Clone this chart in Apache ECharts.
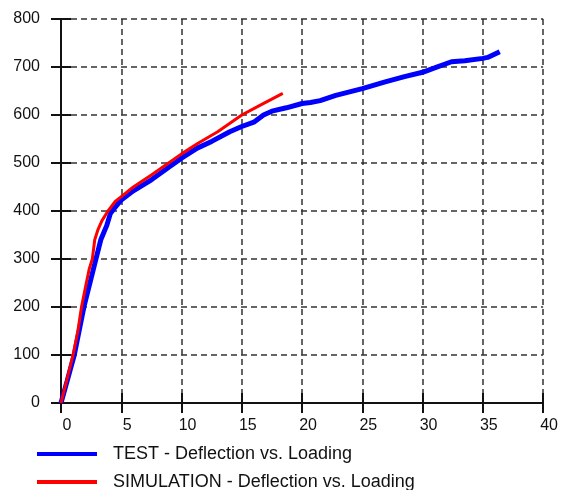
<!DOCTYPE html>
<html>
<head>
<meta charset="utf-8">
<script src="https://cdn.jsdelivr.net/npm/echarts@6/dist/echarts.min.js"></script>
<style>
  html, body { margin: 0; padding: 0; background: #fff; }
  #chart { width: 561px; height: 490px; }
</style>
</head>
<body>
<div id="chart"></div>
<script>
// deflection (x) vs loading (y)
const testPoints = [
  [0, 0], [0.5, 45], [1.1, 100], [1.5, 150], [1.9, 200], [2.4, 250], [2.9, 300],
  [3.3, 340], [3.8, 370], [4.1, 395], [4.4, 405], [5, 423], [6, 442], [7.5, 465],
  [9, 492], [10, 510], [11.3, 531], [12.5, 545], [14, 565], [15, 576], [16, 585],
  [16.8, 600], [17.5, 608], [18.7, 615], [20, 624], [20.7, 626], [21.5, 630],
  [22.8, 641], [25, 655], [26.9, 669], [28.5, 680], [30, 689], [31, 698],
  [32.4, 711], [33.5, 713], [35, 718], [35.4, 720], [36.4, 732]
]
const simPoints = [
  [0, 0], [0.5, 50], [1, 100], [1.4, 150], [1.7, 200], [2.1, 250], [2.35, 280],
  [2.6, 300], [2.8, 340], [3.05, 360], [3.4, 380], [3.9, 400], [4.5, 420],
  [5, 430], [6, 450], [7.5, 475], [10, 519], [11.3, 540], [13, 565], [15, 600],
  [16.5, 620], [18.4, 645]
]
const seriesNames = ['TEST - Deflection vs. Loading', 'SIMULATION - Deflection vs. Loading']

const chart = echarts.init(document.getElementById('chart'))

const font = 'Liberation Sans, Arial, sans-serif'
const axisLine = { show: true, lineStyle: { color: '#111', width: 2 } }
const axisTick = { show: true, length: 10, inside: false, lineStyle: { color: '#111', width: 2 } }
const dashed = { show: true, lineStyle: { color: '#333', width: 1.5, type: [6, 4] } }

// one legend per row so they stack like the original
const legendRow = (name, top) => ({
  orient: 'horizontal',
  left: 32,
  top,
  itemWidth: 60,
  itemHeight: 4,
  icon: 'rect',
  data: [name],
  textStyle: { fontFamily: font, fontSize: 18, color: '#111', padding: [0, 0, 0, 11] }
})

chart.setOption({
  animation: false,
  grid: { left: 61, right: 10, top: 19, bottom: 87 },
  legend: [legendRow(seriesNames[0], 440), legendRow(seriesNames[1], 468)],
  xAxis: [
    {
      type: 'value', min: 0, max: 40, interval: 5,
      axisLine, axisTick, splitLine: dashed,
      axisLabel: { fontFamily: font, fontSize: 16, color: '#111', margin: 15, padding: [0, 0, 0, 12] }
    },
    {
      type: 'value', position: 'top', min: 0, max: 40, interval: 5,
      axisLine, axisTick, splitLine: { show: false }, axisLabel: { show: false }
    }
  ],
  yAxis: [
    {
      type: 'value', min: 0, max: 800, interval: 100,
      axisLine, axisTick, splitLine: dashed,
      axisLabel: { fontFamily: font, fontSize: 16, color: '#111', margin: 21 }
    },
    {
      type: 'value', position: 'right', min: 0, max: 800, interval: 100,
      axisLine, axisTick, splitLine: { show: false }, axisLabel: { show: false }
    }
  ],
  series: [
    {
      name: seriesNames[0],
      type: 'line',
      data: testPoints,
      showSymbol: false,
      lineStyle: { color: '#0000ff', width: 5 },
      itemStyle: { color: '#0000ff' }
    },
    {
      name: seriesNames[1],
      type: 'line',
      data: simPoints,
      showSymbol: false,
      lineStyle: { color: '#ff0000', width: 3 },
      itemStyle: { color: '#ff0000' }
    }
  ]
})
</script>
</body>
</html>
